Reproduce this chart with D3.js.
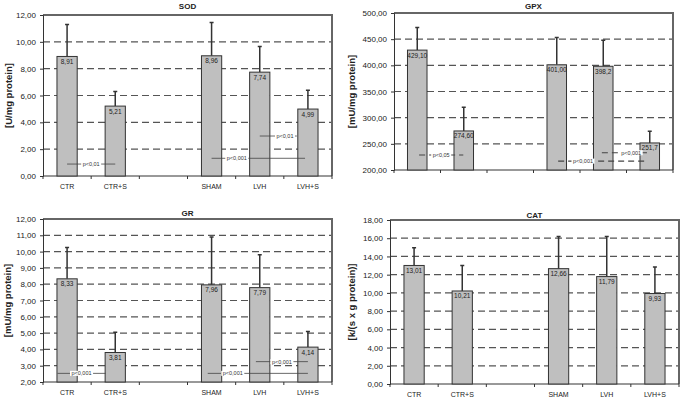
<!DOCTYPE html>
<html>
<head>
<meta charset="utf-8">
<script src="https://cdn.jsdelivr.net/npm/d3@7"></script>
<style>
body { margin: 0; background: #fff; }
svg { display: block; font-family: "Liberation Sans", Arial, sans-serif; }
</style>
</head>
<body>
<svg width="685" height="399"></svg>
<script>
// slot 3 is an empty gap between the two groups
var groups = ["CTR", "CTR+S", "", "SHAM", "LVH", "LVH+S"];
var barGroups = ["CTR", "CTR+S", "SHAM", "LVH", "LVH+S"];

var sodMean = [8.91, 5.21, 8.96, 7.74, 4.99];
var sodSd = [2.39, 1.09, 2.49, 1.91, 1.41];
var sodText = ["8,91", "5,21", "8,96", "7,74", "4,99"];
var sodTicks = [0, 2, 4, 6, 8, 10, 12];
// [from slot, to slot, y value, label, label position along the line]
var sodSig = [[0, 1, 0.89, "p<0,01", 0.5], [3, 4.94, 1.32, "p<0,001", 0.27], [4, 4.77, 2.98, "p<0,01", 0.68]];

var gpxMean = [429.10, 274.60, 401.00, 398.2, 251.7];
var gpxSd = [43, 45.4, 52, 49.8, 22.3];
var gpxText = ["429,10", "274,60", "401,00", "398,2", "251,7"];
var gpxTicks = [200, 250, 300, 350, 400, 450, 500];
var gpxSig = [[0.04, 0.99, 228.7, "p<0,05", 0.5], [3.03, 4.94, 217, "p<0,001", 0.28], [3.97, 4.94, 233, "p<0,001", 0.65]];

var grMean = [8.33, 3.81, 7.96, 7.79, 4.14];
var grSd = [1.92, 1.24, 2.94, 2.01, 0.96];
var grText = ["8,33", "3,81", "7,96", "7,79", "4,14"];
var grTicks = [2, 3, 4, 5, 6, 7, 8, 9, 10, 11, 12];
var grSig = [[-0.2, 0.8, 2.53, "p<0,001", 0.5], [2.92, 5, 2.53, "p<0,001", 0.25], [3.92, 5, 3.25, "p<0,001", 0.5]];

var catMean = [13.01, 10.21, 12.66, 11.79, 9.93];
var catSd = [1.94, 2.79, 3.54, 4.41, 2.92];
var catText = ["13,01", "10,21", "12,66", "11,79", "9,93"];
var catTicks = [0, 2, 4, 6, 8, 10, 12, 14, 16, 18];
var catSig = [];

var svg = d3.select("svg");
var comma = function(v) { return d3.format(".2f")(v).replace(".", ","); };

function drawPanel(p) {
    var w = p.right - p.left, h = p.bottom - p.top;
    var g = svg.append("g").attr("transform", "translate(" + p.left + "," + p.top + ")");

    var x = d3.scaleBand().domain(groups).range([0, w])
        .paddingInner(0.58).paddingOuter(0.29);
    var y = d3.scaleLinear().domain(d3.extent(p.ticks)).range([h, 0]);
    var slot = function(i) { return x.step() * (i + 0.5); };

    // dashed grid
    g.selectAll(".grid").data(p.ticks.slice(1, -1)).enter().append("line")
        .attr("x1", 0).attr("x2", w)
        .attr("y1", function(d) { return y(d); }).attr("y2", function(d) { return y(d); })
        .style("stroke", "#555").style("stroke-width", 1.2).style("stroke-dasharray", "7,4");

    // frame top / right
    g.append("path").attr("d", "M0,0H" + w + "V" + h)
        .style("fill", "none").style("stroke", "#666").style("stroke-width", 2);

    // y axis
    var ya = g.append("g").call(d3.axisLeft(y).tickValues(p.ticks).tickFormat(comma).tickSize(3));
    ya.select(".domain").style("stroke", "#333");
    ya.selectAll("line").style("stroke", "#333");
    ya.selectAll("text").attr("x", -7).style("font-size", "8px").style("fill", "#222");

    // x axis with ticks between categories
    g.append("line").attr("x1", 0).attr("x2", w).attr("y1", h).attr("y2", h)
        .style("stroke", "#333").style("stroke-width", 1);
    g.selectAll(".xt").data(d3.range(groups.length + 1)).enter().append("line")
        .attr("x1", function(d) { return d * x.step(); }).attr("x2", function(d) { return d * x.step(); })
        .attr("y1", h).attr("y2", h + 3).style("stroke", "#333");
    if (p.showLabels) {
        g.selectAll(".xl").data(barGroups).enter().append("text")
            .attr("x", function(d) { return x(d) + x.bandwidth() / 2; })
            .attr("y", h + 12.5).attr("text-anchor", "middle")
            .style("font-size", "7px").style("fill", "#222")
            .text(function(d) { return d; });
    }

    // error bars
    var bars = barGroups.map(function(k, i) {
        return { key: k, mean: p.mean[i], sd: p.sd[i], text: p.text[i] };
    });
    g.selectAll(".err").data(bars).enter().append("path")
        .attr("d", function(d) {
            var cx = x(d.key) + x.bandwidth() / 2;
            return "M" + cx + "," + y(d.mean) + "V" + y(d.mean + d.sd) +
                "M" + (cx - 2) + "," + y(d.mean + d.sd) + "H" + (cx + 2);
        })
        .style("fill", "none").style("stroke", "#333").style("stroke-width", 1.5);

    // bars
    g.selectAll(".bar").data(bars).enter().append("rect")
        .attr("x", function(d) { return x(d.key); })
        .attr("y", function(d) { return y(d.mean); })
        .attr("width", x.bandwidth())
        .attr("height", function(d) { return h - y(d.mean); })
        .style("fill", "#bfbfbf").style("stroke", "#333").style("stroke-width", 1);

    g.selectAll(".val").data(bars).enter().append("text")
        .attr("x", function(d) { return x(d.key) + x.bandwidth() / 2; })
        .attr("y", function(d) { return y(d.mean) + 7.5; })
        .attr("text-anchor", "middle")
        .style("font-size", "6.5px").style("fill", "#222")
        .text(function(d) { return d.text; });

    // significance lines
    p.sig.forEach(function(s) {
        var x1 = slot(s[0]), x2 = slot(s[1]), yy = y(s[2]);
        g.append("line").attr("x1", x1).attr("x2", x2).attr("y1", yy).attr("y2", yy)
            .style("stroke", "#444").style("stroke-width", p.sigDash ? 1.2 : 0.8)
            .style("stroke-dasharray", p.sigDash ? "6,4" : null);
        var lx = x1 + (x2 - x1) * s[4];
        var t = g.append("text").attr("x", lx).attr("y", yy + 2)
            .attr("text-anchor", "middle")
            .style("font-size", "5.5px").style("fill", "#333").text(s[3]);
        var bb = t.node().getBBox();
        g.insert("rect", function() { return t.node(); })
            .attr("x", bb.x - 1.5).attr("y", yy - 2.5).attr("width", bb.width + 3).attr("height", 5)
            .style("fill", "#fff");
    });

    // titles
    svg.append("text").attr("x", p.left + w / 2).attr("y", p.titleY)
        .attr("text-anchor", "middle").style("font-size", "8px").style("font-weight", "bold")
        .style("fill", "#222").text(p.title);
    svg.append("text")
        .attr("transform", "translate(" + p.yTitleX + "," + (p.top + h / 2) + ") rotate(-90)")
        .attr("text-anchor", "middle").attr("dy", "0.35em")
        .style("font-size", "9.5px").style("font-weight", "bold").style("fill", "#222")
        .text(p.yTitle);
}

drawPanel({ title: "SOD", yTitle: "[U/mg protein]", left: 43, top: 15, right: 332, bottom: 176,
    titleY: 9, yTitleX: 9, ticks: sodTicks, mean: sodMean, sd: sodSd, text: sodText,
    sig: sodSig, sigDash: false, showLabels: true });
drawPanel({ title: "GPX", yTitle: "[mU/mg protein]", left: 394, top: 13, right: 673, bottom: 170,
    titleY: 9, yTitleX: 352, ticks: gpxTicks, mean: gpxMean, sd: gpxSd, text: gpxText,
    sig: gpxSig, sigDash: true, showLabels: false });
drawPanel({ title: "GR", yTitle: "[mU/mg protein]", left: 43, top: 219, right: 332, bottom: 382,
    titleY: 215.5, yTitleX: 8, ticks: grTicks, mean: grMean, sd: grSd, text: grText,
    sig: grSig, sigDash: false, showLabels: true });
drawPanel({ title: "CAT", yTitle: "[k/(s x g protein)]", left: 390, top: 220, right: 679, bottom: 384,
    titleY: 217.5, yTitleX: 352, ticks: catTicks, mean: catMean, sd: catSd, text: catText,
    sig: catSig, sigDash: false, showLabels: true });
</script>
</body>
</html>
